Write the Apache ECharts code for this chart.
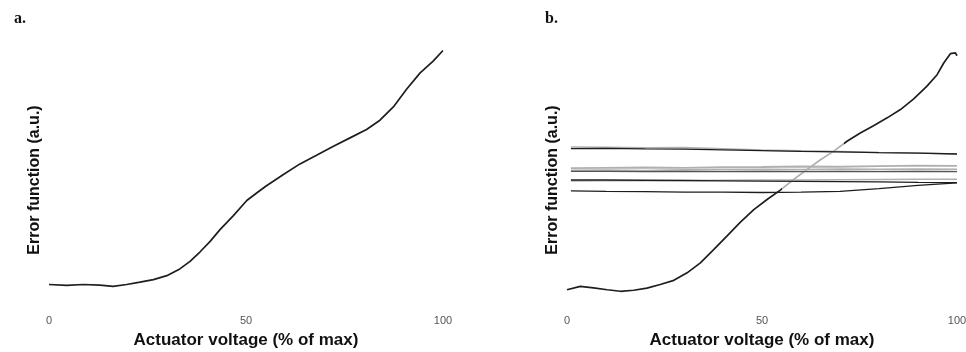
<!DOCTYPE html>
<html>
<head>
<meta charset="utf-8">
<script src="https://cdn.jsdelivr.net/npm/echarts@6/dist/echarts.min.js"></script>
<style>html,body{margin:0;padding:0;background:#fff}#c{width:966px;height:352px}</style>
</head>
<body>
<div id="c"></div>
<script>
// Panel a: single error-function sweep
const aX = [0, 4.5, 8.7, 12.9, 16.3, 19.7, 23.1, 26.5, 29.9, 33.2, 35.8, 38.3, 40.9, 43.4, 46.8, 50.2, 52.7, 55.2, 59.5, 63.7, 67.9, 72.2, 76.4, 80.6, 84.0, 87.4, 90.8, 94.2, 97.5, 100];
const aY = [5.8, 5.5, 5.8, 5.6, 5.1, 5.8, 6.7, 7.7, 9.2, 11.8, 14.7, 18.3, 22.4, 26.9, 32.3, 38.1, 41.0, 43.8, 48.1, 52.2, 55.5, 59.0, 62.2, 65.4, 69.0, 74.1, 81.0, 87.2, 91.7, 95.8];

// Panel b: main sweep
const bX = [0, 3.4, 6.8, 10.3, 13.7, 17.1, 20.5, 23.9, 27.4, 30.8, 34.2, 37.6, 41.0, 44.4, 47.9, 51.3, 54.7, 58.1, 61.5, 65.0, 68.4, 71.8, 75.2, 78.6, 82.1, 85.5, 88.9, 92.3, 94.9, 96.6, 98.3, 99.6, 100];
const bY = [3.8, 5.1, 4.5, 3.8, 3.2, 3.6, 4.4, 5.8, 7.4, 10.3, 14.1, 19.2, 24.4, 29.7, 34.6, 38.5, 42.1, 46.2, 50.0, 53.8, 57.1, 60.9, 64.1, 66.9, 69.9, 73.1, 77.2, 82.1, 86.5, 91.0, 94.6, 94.9, 93.8];

// Panel b: near-flat sweeps
const flatX = [1, 10, 20, 30, 40, 50, 60, 70, 80, 90, 100];
const flat1Black = [58.1, 58.2, 58.0, 57.9, 57.6, 57.3, 57.0, 56.8, 56.5, 56.3, 56.0];
const flat1Gray  = [58.7, 58.6, 58.4, 58.5, 58.0, 57.5, 57.2, 56.9, 56.6, 56.4, 56.0];
const flat2GrayA = [50.6, 50.7, 50.8, 50.7, 50.9, 51.0, 51.2, 51.1, 51.3, 51.5, 51.4];
const flat2GrayB = [49.7, 49.8, 49.6, 49.9, 50.0, 50.1, 50.0, 50.2, 50.1, 50.2, 50.1];
const flat2Dark  = [49.3, 49.3, 49.2, 49.3, 49.2, 49.3, 49.2, 49.3, 49.2, 49.3, 49.2];
const flat3Black = [46.0, 46.0, 45.9, 45.8, 45.7, 45.6, 45.5, 45.4, 45.3, 45.1, 45.0];
const flat3Gray  = [45.6, 45.7, 45.7, 45.8, 45.9, 46.0, 46.0, 46.1, 46.2, 46.3, 46.3];
const flat4Black = [41.8, 41.6, 41.5, 41.3, 41.3, 41.2, 41.3, 41.6, 42.7, 43.9, 44.9];

const xTicks = [0, 50, 100];

const pair = (xs, ys) => xs.map((x, i) => [x, ys[i]]);
const BLACK = '#1e1e1e', GRAY = '#b0b0b0';
const FONT = 'Liberation Sans';

function xAxis(idx) {
  return {
    type: 'value', gridIndex: idx, min: 0, max: 100, interval: 50,
    name: 'Actuator voltage (% of max)', nameLocation: 'middle', nameGap: 22,
    nameTextStyle: {fontFamily: FONT, fontWeight: 'bold', fontSize: 17, color: '#111'},
    axisLine: {show: false},
    axisTick: {show: false}, splitLine: {show: false},
    axisLabel: {fontFamily: FONT, fontSize: 11, color: '#555', margin: 5,
      formatter: v => xTicks.includes(v) ? String(v) : ''}
  };
}
function yAxis(idx) {
  return {
    type: 'value', gridIndex: idx, min: -4, max: 96,
    name: 'Error function (a.u.)', nameLocation: 'middle', nameGap: 6, nameRotate: 90,
    nameTextStyle: {fontFamily: FONT, fontWeight: 'bold', fontSize: 16, color: '#111'},
    axisLine: {show: false}, axisTick: {show: false}, axisLabel: {show: false}, splitLine: {show: false}
  };
}
function line(idx, data, color, w) {
  const s = {type: 'line', xAxisIndex: idx, yAxisIndex: idx, data: data, showSymbol: false,
    symbol: 'none', lineStyle: {width: w || 1.5}, animation: false, silent: true};
  if (color) { s.lineStyle.color = color; s.itemStyle = {color: color}; }
  return s;
}

const series = [
  line(0, pair(aX, aY), BLACK, 1.7),
  line(1, pair(bX, bY), null, 1.7),
  line(1, pair(flatX, flat1Gray), GRAY, 1.6),
  line(1, pair(flatX, flat1Black), BLACK, 1.3),
  line(1, pair(flatX, flat2GrayA), GRAY, 1.8),
  line(1, pair(flatX, flat2GrayB), GRAY, 1.8),
  line(1, pair(flatX, flat2Dark), '#555', 1.2),
  line(1, pair(flatX, flat3Gray), GRAY, 1.6),
  line(1, pair(flatX, flat3Black), BLACK, 1.3),
  line(1, pair(flatX, flat4Black), BLACK, 1.3)
];

const chart = echarts.init(document.getElementById('c'), null, {renderer: 'canvas'});
chart.setOption({
  backgroundColor: '#fff',
  animation: false,
  title: [
    {text: 'a.', left: 9, top: 6, textStyle: {fontFamily: 'Liberation Serif', fontWeight: 'bold', fontSize: 16, color: '#111'}},
    {text: 'b.', left: 540, top: 6, textStyle: {fontFamily: 'Liberation Serif', fontWeight: 'bold', fontSize: 16, color: '#111'}}
  ],
  grid: [
    {left: 49, right: 523, top: 50, bottom: 42, containLabel: false, outerBoundsMode: 'none'},
    {left: 567, right: 9, top: 50, bottom: 42, containLabel: false, outerBoundsMode: 'none'}
  ],
  xAxis: [xAxis(0), xAxis(1)],
  yAxis: [yAxis(0), yAxis(1)],
  visualMap: [{
    type: 'piecewise', show: false, seriesIndex: 1, dimension: 0,
    pieces: [{lt: 55, color: BLACK}, {gte: 55, lte: 71, color: GRAY}, {gt: 71, color: BLACK}]
  }],
  series: series
});
</script>
</body>
</html>
